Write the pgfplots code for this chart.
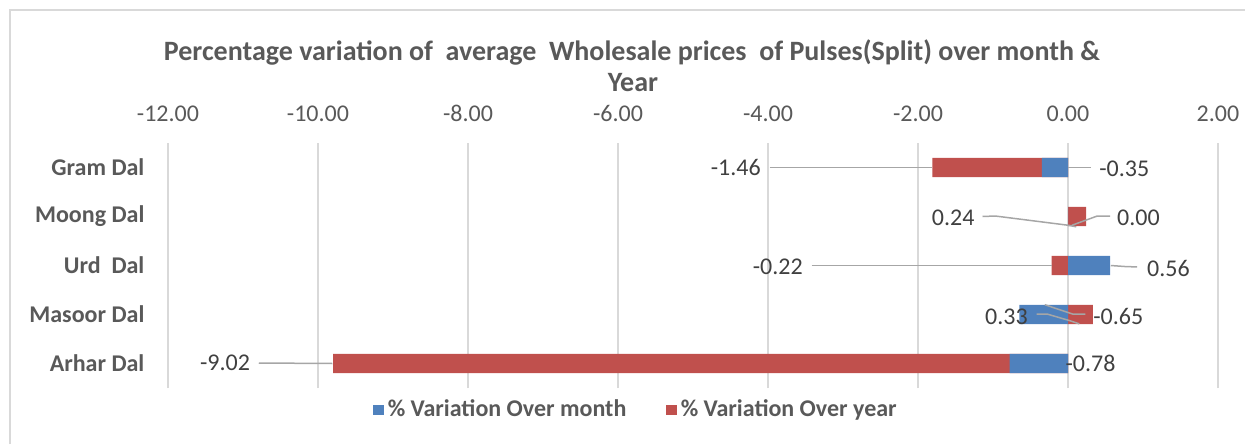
\documentclass[border=0pt]{standalone}
\usepackage{pgfplots}
\pgfplotsset{compat=1.18}
\usepackage{fontspec}
\setmainfont{Carlito}
\definecolor{monthblue}{HTML}{4F81BD}
\definecolor{yearred}{HTML}{C0504D}
\definecolor{textgray}{HTML}{595959}
\definecolor{labelgray}{HTML}{404040}
\definecolor{gridgray}{HTML}{D9D9D9}
\definecolor{leadergray}{HTML}{A6A6A6}

\begin{document}
\begin{tikzpicture}
% 1 px of the reference = 0.5pt
\useasboundingbox (0,0) rectangle (622.5pt,-222pt);
\draw[gridgray, line width=0.8pt] (5pt,-222pt) -- (5pt,-5pt) -- (622.5pt,-5pt);

\node[font=\bfseries\fontsize{14}{16}\selectfont, text=textgray] at (316pt,-26pt)
  {Percentage variation of\ \ average\ \ Wholesale prices\ \ of Pulses(Split) over month \&};
\node[font=\bfseries\fontsize{14}{16}\selectfont, text=textgray] at (316.5pt,-41.5pt) {Year};

\begin{axis}[
    at={(84pt,-71.5pt)}, anchor=north west,
    width=525pt, height=122.5pt, scale only axis,
    xbar, bar width=0.39,
    xmin=-12, xmax=2,
    xtick={-12,-10,-8,-6,-4,-2,0,2},
    ymin=-0.5, ymax=4.5,
    ytick={0,1,2,3,4},
    yticklabels={Arhar Dal, Masoor Dal, Urd\ \ Dal, Moong Dal, Gram Dal},
    xticklabel pos=upper,
    axis line style={draw=none},
    tick style={draw=none},
    xmajorgrids,
    major grid style={color=gridgray, line width=0.7pt},
    /pgf/number format/assume math mode=true,
    xticklabel={\pgfmathprintnumber[fixed, fixed zerofill, precision=2]{\tick}},
    xticklabel style={font=\fontsize{12}{14}\selectfont, text=textgray, yshift=7pt},
    yticklabel style={font=\bfseries\fontsize{12}{14}\selectfont, text=textgray, xshift=-4pt},
    clip=false,
    legend columns=2,
    legend style={at={(0.4467,-0.09)}, anchor=center, draw=none, fill=none,
        font=\bfseries\fontsize{12}{14}\selectfont, text=textgray,
        /tikz/every even column/.append style={column sep=18pt}},
    legend image code/.code={\fill[#1] (0pt,-2.6pt) rectangle (5.2pt,2.6pt);},
]
% red bars run to the end of the stack (month + year), blue drawn over them
\addplot[fill=yearred, draw=none, bar shift=0pt, forget plot] coordinates {
    (-9.80,0) (0.33,1) (-0.22,2) (0.24,3) (-1.81,4)
};
\addplot[fill=monthblue, draw=none, bar shift=0pt] coordinates {
    (-0.78,0) (-0.65,1) (0.56,2) (0.00,3) (-0.35,4)
};
\addlegendentry{\% Variation Over month}
\addlegendimage{fill=yearred, draw=none}
\addlegendentry{\% Variation Over year}

% data labels with leader lines
\tikzset{dl/.style={font=\fontsize{12}{14}\selectfont, text=labelgray},
         lead/.style={leadergray, line width=0.75pt}}
% Gram
\draw[lead] (-3.98,4) -- (-1.81,4);
\node[dl] at (-4.43,4) {-1.46};
\draw[lead] (0,4) -- (0.30,4);
\node[dl] at (0.75,3.97) {-0.35};
% Moong
\draw[lead] (-1.14,3) -- (-0.97,3.01) -- (0.01,2.82) -- (0.11,2.79);
\node[dl] at (-1.53,2.97) {0.24};
\draw[lead] (0.56,3.01) -- (0.39,3.01) -- (0.05,2.82);
\node[dl] at (0.94,2.97) {0.00};
% Urd
\draw[lead] (-3.42,2) -- (-0.22,2);
\node[dl] at (-3.87,1.98) {-0.22};
\draw[lead] (0.57,2) -- (0.75,1.98) -- (0.92,1.97);
\node[dl] at (1.34,1.94) {0.56};
% Masoor
\draw[lead] (-0.42,1.01) -- (-0.28,1.01) -- (0.01,0.88) -- (0.15,0.81);
\draw[lead] (-0.31,1.2) -- (0.06,1.01) -- (0.23,1.01);
\node[dl] at (-0.82,0.96) {0.33};
\node[dl] at (0.67,0.95) {-0.65};
% Arhar
\draw[lead] (-10.79,0.01) -- (-9.81,0);
\node[dl] at (-11.24,0.01) {-9.02};
\node[dl] at (0.30,0.01) {-0.78};
\end{axis}
\end{tikzpicture}
\end{document}
